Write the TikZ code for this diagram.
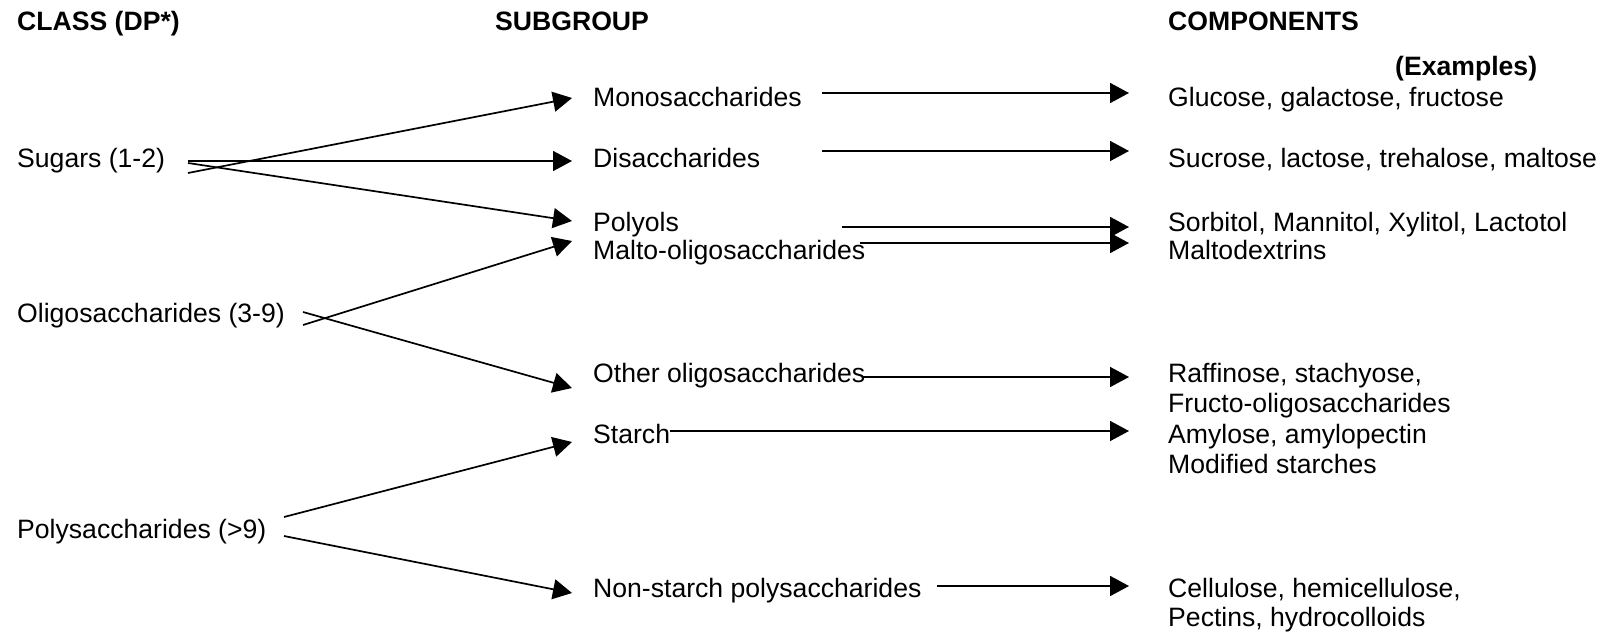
\documentclass[tikz,border=0pt]{standalone}
\usepackage{fontspec}
\setmainfont{Liberation Sans}
\usetikzlibrary{arrows.meta,calc}
\begin{document}
\begin{tikzpicture}[x=1pt,y=-1pt,
  txt/.style={inner sep=0pt, anchor=base west, font=\fontsize{26.6}{30}\selectfont},
  hdr/.style={txt, font=\fontsize{26.6}{30}\selectfont\bfseries},
  link/.style={line width=1.7pt, -{Triangle[length=19pt,width=20pt]}}]
\useasboundingbox (0,0) rectangle (1605,635);

% column headings
\node[hdr] (hclass) at (17,30)   {CLASS (DP*)};
\node[hdr] (hsub)   at (495,30)  {SUBGROUP};
\node[hdr] (hcomp)  at (1168,30) {COMPONENTS};
\node[hdr] (hex)    at (1395,75) {(Examples)};

% classes
\node[txt] (sug) at (17,167) {Sugars (1-2)};
\node[txt] (oli) at (17,322) {Oligosaccharides (3-9)};
\node[txt] (pol) at (17,538) {Polysaccharides (>9)};

% subgroups
\node[txt] (mono)  at (593,106) {Monosaccharides};
\node[txt] (di)    at (593,167) {Disaccharides};
\node[txt] (poly)  at (593,231) {Polyols};
\node[txt] (malto) at (593,259) {Malto-oligosaccharides};
\node[txt] (other) at (593,382) {Other oligosaccharides};
\node[txt] (starch) at (593,443) {Starch};
\node[txt] (nsp)   at (593,597) {Non-starch polysaccharides};

% component examples
\node[txt] (glu) at (1168,106) {Glucose, galactose, fructose};
\node[txt] (suc) at (1168,167) {Sucrose, lactose, trehalose, maltose};
\node[txt] (sor) at (1168,231) {Sorbitol, Mannitol, Xylitol, Lactotol};
\node[txt] (mdx) at (1168,259) {Maltodextrins};
\node[txt] (raf) at (1168,382) {Raffinose, stachyose,};
\node[txt] (fru) at (1168,412) {Fructo-oligosaccharides};
\node[txt] (amy) at (1168,443) {Amylose, amylopectin};
\node[txt] (mod) at (1168,473) {Modified starches};
\node[txt] (cel) at (1168,597) {Cellulose, hemicellulose,};
\node[txt] (pec) at (1168,626) {Pectins, hydrocolloids};

% class -> subgroup
\draw[link] ($(sug.base west)+(171,6)$)  -- ($(mono.base west)+(-21,-8)$);
\draw[link] ($(sug.base west)+(171,-6)$) -- ($(di.base west)+(-21,-6)$);
\draw[link] ($(sug.base west)+(171,-4)$) -- ($(poly.base west)+(-21,-10)$);
\draw[link] ($(oli.base west)+(286,3)$)  -- ($(malto.base west)+(-21,-18)$);
\draw[link] ($(oli.base west)+(286,-10)$) -- ($(other.base west)+(-21,6)$);
\draw[link] ($(pol.base west)+(267,-21)$) -- ($(starch.base west)+(-21,-1)$);
\draw[link] ($(pol.base west)+(267,-2)$)  -- ($(nsp.base west)+(-21,-4)$);

% subgroup -> components
\draw[link] ($(mono.base west)+(229,-13)$)  -- ($(glu.base west)+(-39,-13)$);
\draw[link] ($(di.base west)+(229,-16)$)    -- ($(suc.base west)+(-39,-16)$);
\draw[link] ($(poly.base west)+(249,-4)$)   -- ($(sor.base west)+(-39,-4)$);
\draw[link] ($(malto.base west)+(267,-16)$) -- ($(mdx.base west)+(-39,-16)$);
\draw[link] ($(other.base west)+(270,-5)$)  -- ($(raf.base west)+(-39,-5)$);
\draw[link] ($(starch.base east)+(0,-12)$)  -- ($(amy.base west)+(-39,-12)$);
\draw[link] ($(nsp.base west)+(344,-11)$)   -- ($(cel.base west)+(-39,-11)$);
\end{tikzpicture}
\end{document}
